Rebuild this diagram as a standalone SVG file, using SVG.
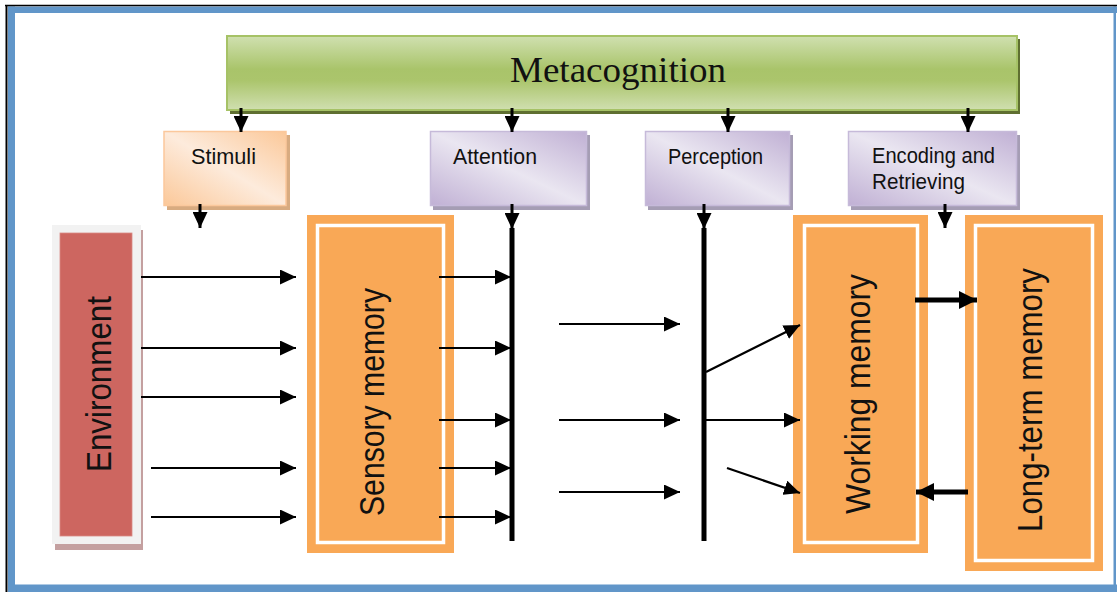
<svg xmlns="http://www.w3.org/2000/svg" width="1117" height="592" viewBox="0 0 1117 592">
<defs>
<linearGradient id="gGreen" x1="0" y1="0" x2="0" y2="1">
<stop offset="0" stop-color="#d0e0b0"/>
<stop offset="0.45" stop-color="#a9c46a"/>
<stop offset="0.6" stop-color="#abc56c"/>
<stop offset="1" stop-color="#d0dfb0"/>
</linearGradient>
<linearGradient id="gPeach" x1="0" y1="1" x2="1" y2="0">
<stop offset="0" stop-color="#fbc899"/>
<stop offset="0.5" stop-color="#fdebdc"/>
<stop offset="1" stop-color="#fbc899"/>
</linearGradient>
<linearGradient id="gPurple" x1="0" y1="1" x2="1" y2="0">
<stop offset="0" stop-color="#c0b0d4"/>
<stop offset="0.5" stop-color="#eae6f1"/>
<stop offset="1" stop-color="#c0b0d4"/>
</linearGradient>
<marker id="ah" markerUnits="userSpaceOnUse" markerWidth="16" markerHeight="15" refX="16" refY="7.5" orient="auto">
<path d="M0,0 L16,7.5 L0,15 z" fill="#000"/>
</marker>
<marker id="ahT" markerUnits="userSpaceOnUse" markerWidth="18" markerHeight="18" refX="18" refY="9" orient="auto">
<path d="M0,0 L18,9 L0,18 z" fill="#000"/>
</marker>
</defs>
<style>
.lbl{font-family:"Liberation Sans",Arial,sans-serif;font-size:22px;fill:#111;}
.vlbl{font-family:"Liberation Sans",Arial,sans-serif;font-size:35px;fill:#111;}
.ar{stroke:#000;stroke-width:2.2;fill:none;marker-end:url(#ah);}
.ard{stroke:#000;stroke-width:3;fill:none;marker-end:url(#ah);}
.art{stroke:#000;stroke-width:5;fill:none;marker-end:url(#ahT);}
.bar{fill:#000;}
.mem{fill:#f9a856;}
.memw{fill:none;stroke:#fff;stroke-width:3.5;}
</style>
<rect x="0" y="0" width="1117" height="592" fill="#fff"/>
<!-- frame -->
<g id="frame">
<rect x="8" y="6.5" width="1109" height="6.5" fill="#6196c9"/>
<rect x="8" y="6.5" width="7" height="585" fill="#6196c9"/>
<rect x="8" y="584.5" width="1109" height="7.5" fill="#6196c9"/>
<rect x="1113.5" y="6.5" width="2.5" height="580" fill="#6196c9"/>
<line x1="5" y1="5.5" x2="1117" y2="5.5" stroke="#000" stroke-width="1.5"/>
<line x1="6.5" y1="5" x2="6.5" y2="592" stroke="#000" stroke-width="2"/>
</g>
<g id="metacognition">
<rect x="230" y="39" width="790" height="75" fill="#5f6f31"/>
<rect x="227" y="36" width="790" height="74" fill="url(#gGreen)" stroke="#a6c266" stroke-width="2"/>
<text x="510" y="82" font-family="'Liberation Serif','Times New Roman',serif" font-size="36" fill="#111" textLength="216" lengthAdjust="spacingAndGlyphs">Metacognition</text>
</g>
<g id="stimuli">
<rect x="167" y="135" width="123" height="75" fill="#d8ab80"/>
<rect x="164" y="131.5" width="122" height="74" fill="url(#gPeach)" stroke="#fbc89c" stroke-width="1.5"/>
<text class="lbl" x="191" y="164" textLength="65" lengthAdjust="spacingAndGlyphs">Stimuli</text>
</g>
<g id="attention">
<rect x="433" y="135" width="157" height="75" fill="#a59db4"/>
<rect x="430.5" y="131.5" width="156" height="74" fill="url(#gPurple)" stroke="#c6bad9" stroke-width="1.5"/>
<text class="lbl" x="453" y="164" textLength="84" lengthAdjust="spacingAndGlyphs">Attention</text>
</g>
<g id="perception">
<rect x="648" y="135" width="145" height="75" fill="#a59db4"/>
<rect x="645.5" y="131.5" width="144" height="74" fill="url(#gPurple)" stroke="#c6bad9" stroke-width="1.5"/>
<text class="lbl" x="668" y="164" textLength="95" lengthAdjust="spacingAndGlyphs">Perception</text>
</g>
<g id="encoding">
<rect x="851" y="135" width="169" height="75" fill="#a59db4"/>
<rect x="848.5" y="131.5" width="168" height="74" fill="url(#gPurple)" stroke="#c6bad9" stroke-width="1.5"/>
<text class="lbl" x="872" y="163" textLength="123" lengthAdjust="spacingAndGlyphs">Encoding and</text>
<text class="lbl" x="872" y="189" textLength="93" lengthAdjust="spacingAndGlyphs">Retrieving</text>
</g>
<g id="environment">
<rect x="55" y="230" width="88" height="320" fill="#c4a0a0"/>
<rect x="52" y="225" width="89" height="319" fill="#f2f2f2"/>
<rect x="60" y="233" width="72" height="303" fill="#cd6660" stroke="#d98a85" stroke-width="0.8"/>
<text class="vlbl" transform="translate(111,472) rotate(-90)" x="0" y="0" textLength="176" lengthAdjust="spacingAndGlyphs">Environment</text>
</g>
<g id="sensory-memory">
<rect class="mem" x="307" y="215" width="147" height="338"/>
<rect class="memw" x="317.5" y="225.5" width="126" height="317"/>
<text class="vlbl" transform="translate(384,516) rotate(-90)" x="0" y="0" textLength="228" lengthAdjust="spacingAndGlyphs">Sensory memory</text>
</g>
<g id="working-memory">
<rect class="mem" x="793" y="215" width="135" height="338"/>
<rect class="memw" x="804.5" y="225.5" width="113" height="317"/>
<text class="vlbl" transform="translate(870,514) rotate(-90)" x="0" y="0" textLength="240" lengthAdjust="spacingAndGlyphs">Working memory</text>
</g>
<g id="long-term-memory">
<rect class="mem" x="965" y="215" width="138" height="356"/>
<rect class="memw" x="975.5" y="225.5" width="117" height="335"/>
<text class="vlbl" transform="translate(1042,532) rotate(-90)" x="0" y="0" textLength="264" lengthAdjust="spacingAndGlyphs">Long-term memory</text>
</g>
<g id="connectors">
<!-- metacognition down -->
<line class="ard" x1="241" y1="108" x2="241" y2="132"/>
<line class="ard" x1="512" y1="108" x2="512" y2="132"/>
<line class="ard" x1="728" y1="108" x2="728" y2="132"/>
<line class="ard" x1="968" y1="108" x2="968" y2="132"/>
<!-- boxes down -->
<line class="ard" x1="200" y1="204" x2="200" y2="228"/>
<line class="ard" x1="512" y1="204" x2="512" y2="229"/>
<line class="ard" x1="704" y1="204" x2="704" y2="229"/>
<line class="ard" x1="945" y1="204" x2="945" y2="228"/>
<!-- bars -->
<rect class="bar" x="509.5" y="228" width="5" height="313"/>
<rect class="bar" x="701.5" y="228" width="5" height="313"/>
<!-- environment to sensory -->
<line class="ar" x1="141" y1="277" x2="296" y2="277"/>
<line class="ar" x1="141" y1="348" x2="296" y2="348"/>
<line class="ar" x1="141" y1="397" x2="296" y2="397"/>
<line class="ar" x1="151" y1="468" x2="296" y2="468"/>
<line class="ar" x1="151" y1="517" x2="296" y2="517"/>
<!-- sensory to attention -->
<line class="ar" x1="439" y1="277" x2="511" y2="277"/>
<line class="ar" x1="439" y1="348" x2="511" y2="348"/>
<line class="ar" x1="439" y1="420" x2="511" y2="420"/>
<line class="ar" x1="439" y1="468" x2="511" y2="468"/>
<line class="ar" x1="439" y1="517" x2="511" y2="517"/>
<!-- middle -->
<line class="ar" x1="559" y1="324" x2="680" y2="324"/>
<line class="ar" x1="559" y1="420" x2="680" y2="420"/>
<line class="ar" x1="559" y1="492" x2="680" y2="492"/>
<!-- perception to working -->
<line class="ar" x1="706" y1="372" x2="800" y2="325"/>
<line class="ar" x1="706" y1="420" x2="800" y2="420"/>
<line class="ar" x1="727" y1="468" x2="800" y2="493"/>
<!-- working / long-term -->
<line class="art" x1="915" y1="300" x2="977" y2="300"/>
<line class="art" x1="968" y1="492" x2="916" y2="492"/>
</g>
</svg>
